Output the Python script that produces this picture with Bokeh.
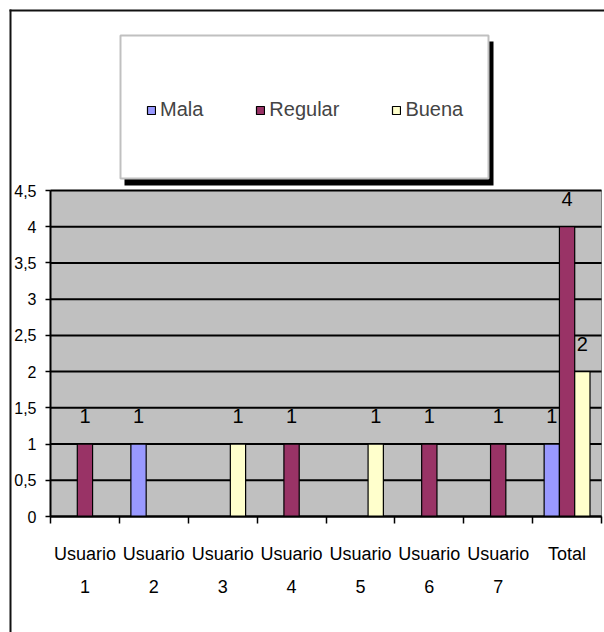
import numpy as np
from bokeh.plotting import figure
from bokeh.models import (Range1d, FixedTicker, CustomJSTickFormatter, BoxAnnotation,
                          Legend, LegendItem, ColumnDataSource)
from bokeh.core.properties import value
from bokeh.embed import file_html
from bokeh.resources import INLINE

# ---- data ----
categories = ["Usuario 1", "Usuario 2", "Usuario 3", "Usuario 4",
              "Usuario 5", "Usuario 6", "Usuario 7", "Total"]
tick_labels = ["Usuario\n1", "Usuario\n2", "Usuario\n3", "Usuario\n4",
               "Usuario\n5", "Usuario\n6", "Usuario\n7", "Total"]
series_names = ["Mala", "Regular", "Buena"]
mala = [0, 1, 0, 0, 0, 0, 0, 1]
regular = [1, 0, 0, 1, 0, 1, 1, 4]
buena = [0, 0, 1, 0, 1, 0, 0, 2]
y_ticks = [0, 0.5, 1, 1.5, 2, 2.5, 3, 3.5, 4, 4.5]
colors = ["#9999FF", "#993366", "#FFFFCC"]

FONT = "Liberation Sans"

# ---- geometry (pixels) ----
W, H = 604, 632
PL, PR, PT, PB = 50, 601, 190, 516      # plot area edges
n = len(categories)
y_max = 4.5
ux = n / (PR - PL)          # data units per pixel (x)
uy = y_max / (PB - PT)      # data units per pixel (y)
x_range = Range1d(-PL * ux, n + (W - PR) * ux)
y_range = Range1d(-(H - PB) * uy, y_max + PT * uy)

p = figure(width=W, height=H, x_range=x_range, y_range=y_range,
           output_backend="svg", toolbar_location=None,
           min_border=0, background_fill_color="white", border_fill_color="white",
           outline_line_color=None)
p.xgrid.visible = False
p.ygrid.visible = False

# plot area background
p.quad(left=[0], right=[n], bottom=[0], top=[y_max], fill_color="#C0C0C0",
       line_color="#808080", line_width=1)
# horizontal grid lines
p.segment(x0=[0] * len(y_ticks), x1=[n] * len(y_ticks), y0=y_ticks, y1=y_ticks,
          line_color="black", line_width=2)

# y axis
yax = p.yaxis[0]
yax.fixed_location = 0
yax.bounds = (0, y_max)
yax.ticker = FixedTicker(ticks=y_ticks)
yax.formatter = CustomJSTickFormatter(code="return String(tick).replace('.', ',');")
yax.minor_tick_line_color = None
yax.major_tick_in = 0
yax.major_tick_out = 5
yax.axis_line_width = 2
yax.major_tick_line_width = 1.5
yax.major_label_standoff = 9
yax.major_label_text_font = FONT
yax.major_label_text_font_size = "16px"
yax.major_label_text_color = "black"

# x axis
xax = p.xaxis[0]
centers = [i + 0.5 for i in range(n)]
bounds = [float(i) for i in range(n + 1)]
xax.fixed_location = 0
xax.bounds = (0, n)
xax.ticker = FixedTicker(ticks=centers, minor_ticks=bounds)
xax.formatter = CustomJSTickFormatter(args=dict(labels=tick_labels),
                                      code="return labels[Math.floor(tick)];")
xax.major_tick_in = 0
xax.major_tick_out = 0
xax.minor_tick_in = 0
xax.minor_tick_out = 7
xax.minor_tick_line_color = "black"
xax.minor_tick_line_width = 1.5
xax.axis_line_width = 2
xax.major_label_standoff = 20
xax.major_label_text_font = FONT
xax.major_label_text_font_size = "18px"
xax.major_label_text_line_height = 1.68
xax.major_label_text_color = "black"

# bars
bw = 0.222
series = [mala, regular, buena]
items = []
lx, ly, lt = [], [], []
for k, (name, vals, col) in enumerate(zip(series_names, series, colors)):
    xs = [i + 0.5 + (k - 1) * bw for i, v in enumerate(vals) if v]
    ys = [v for v in vals if v]
    src = ColumnDataSource(dict(x=xs, top=ys))
    r = p.vbar(x="x", top="top", width=bw, bottom=0, source=src,
               fill_color=col, line_color="black", line_width=1.2)
    items.append(LegendItem(label=name, renderers=[r]))
    lx += xs
    ly += ys
    lt += [str(v) for v in ys]

lab_src = ColumnDataSource(dict(x=lx, y=ly, t=lt))
p.text(x="x", y="y", text="t", source=lab_src, text_align="center", text_baseline="middle",
       y_offset=-28, text_font=value(FONT), text_font_size="20px", text_color="black")

def cbox(l, r, t, b, **kw):
    return BoxAnnotation(left=l, right=r, top=t, bottom=b,
                         left_units="canvas", right_units="canvas",
                         top_units="canvas", bottom_units="canvas", **kw)

# outer border (top and left)
p.add_layout(cbox(9, W, 9, 11, fill_color="#111111", fill_alpha=1, line_color=None))
p.add_layout(cbox(9, 11, 9, H, fill_color="#111111", fill_alpha=1, line_color=None))

# legend box shadow and box
p.add_layout(cbox(124, 493, 41, 185, fill_color="black", fill_alpha=1, line_color=None))
p.add_layout(cbox(120, 488, 35, 178, fill_color="white", fill_alpha=1,
                  line_color="#C0C0C0", line_width=2, line_alpha=1))

legend = Legend(items=items, orientation="horizontal", location=(146, H - 121),
                background_fill_alpha=0, border_line_color=None,
                glyph_width=10, glyph_height=10, label_standoff=4, spacing=52,
                padding=0, margin=0,
                label_text_font=FONT, label_text_font_size="20px")
p.add_layout(legend, "center")

open("out.html", "w").write(file_html(p, INLINE))
